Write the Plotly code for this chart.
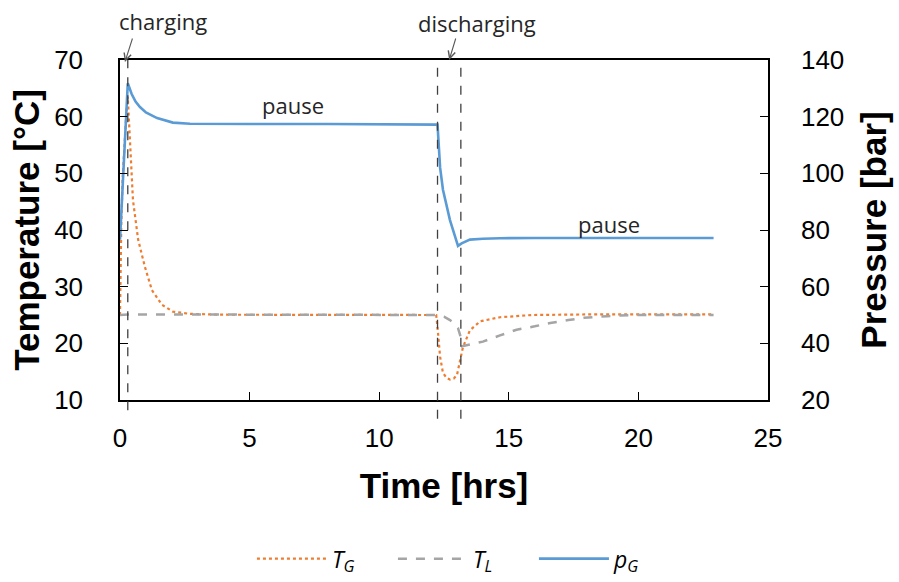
import plotly.graph_objects as go

# ---- data ----
t_G = [0, 0.02, 0.05, 0.1, 0.18, 0.25, 0.3, 0.39, 0.5, 0.7, 0.96, 1.23, 1.62, 2.04, 2.7, 4, 8,
       12.2, 12.27, 12.35, 12.46, 12.6, 12.73, 12.88, 13.0, 13.1, 13.23, 13.5, 13.9, 14.66, 15.9, 18, 20, 22.9]
T_G = [25, 33, 41, 49, 56, 61, 63.5, 54.7, 45.3, 38.3, 33.5, 29.4, 26.8, 25.6, 25.2, 25.05, 25.0,
       25.0, 21.8, 17.6, 14.8, 13.9, 13.6, 13.8, 14.4, 16.5, 19.3, 22.3, 23.9, 24.6, 25.0, 25.1, 25.1, 25.1]

t_L = [0, 0.3, 1, 5, 12.23, 12.5, 12.73, 12.9, 13.04, 13.12, 13.2, 13.5, 14.0, 14.66, 15.3, 16.0,
       16.6, 17.3, 17.9, 18.8, 19.8, 21, 22.9]
T_L = [25.0, 25.1, 25.1, 25.05, 25.0, 24.7, 24.1, 23.5, 22.7, 21.5, 19.5, 19.8, 20.3, 21.4, 22.4, 23.0,
       23.6, 24.1, 24.5, 24.8, 25.0, 25.0, 25.0]

t_p = [0, 0.3, 0.45, 0.6, 0.77, 1.0, 1.43, 2.04, 2.7, 3.5, 5, 8, 10, 12.25, 12.35, 12.46, 12.73,
       13.04, 13.18, 13.5, 14.0, 14.66, 16, 18, 20, 22.9]
p_G = [76.6, 131.8, 128.0, 125.3, 123.4, 121.5, 119.5, 117.9, 117.5, 117.4, 117.4, 117.4, 117.3, 117.2,
       102.0, 94.2, 83.5, 74.4, 75.3, 76.6, 76.9, 77.1, 77.2, 77.2, 77.2, 77.2]

event_times = [0.3, 12.25, 13.15]
x_ticks = [0, 5, 10, 15, 20, 25]
y1_ticks = [10, 20, 30, 40, 50, 60, 70]
y2_ticks = [20, 40, 60, 80, 100, 120, 140]

ORANGE = "#ED7D31"
GREY = "#A5A5A5"
BLUE = "#5B9BD5"
TICKFONT = dict(family="Liberation Sans, Arial", size=26, color="black")
TITLEFONT = dict(family="Liberation Sans, Arial", size=35, color="black")
ANNFONT = dict(family="Open Sans", size=22, color="#262626")

fig = go.Figure()
fig.add_trace(go.Scatter(x=t_G, y=T_G, mode="lines", name="<i>T</i><sub><i>G</i></sub>",
                         line=dict(color=ORANGE, width=2.2, dash="dot"), yaxis="y"))
fig.add_trace(go.Scatter(x=t_L, y=T_L, mode="lines", name="<i>T</i><sub><i>L</i></sub>",
                         line=dict(color=GREY, width=2.5, dash="dash"), yaxis="y"))
fig.add_trace(go.Scatter(x=t_p, y=p_G, mode="lines", name="<i>p</i><sub><i>G</i></sub>",
                         line=dict(color=BLUE, width=2.6), yaxis="y2"))

shapes = []
for i, tx in enumerate(event_times):
    shapes.append(dict(type="line", xref="x", yref="paper", x0=tx, x1=tx,
                       y0=-0.03 if i == 0 else -0.055, y1=1,
                       line=dict(color="#404040", width=1.3, dash="dash"), layer="above"))

annotations = [
    dict(text="pause", x=6.67, y=62.1, xref="x", yref="y", showarrow=False, font=ANNFONT),
    dict(text="pause", x=18.87, y=41.0, xref="x", yref="y", showarrow=False, font=ANNFONT),
    dict(text="charging", x=1.66, y=1.115, xref="x", yref="paper", yanchor="middle",
         showarrow=False, font=ANNFONT),
    dict(text="discharging", x=13.77, y=1.109, xref="x", yref="paper", yanchor="middle",
         showarrow=False, font=ANNFONT),
    dict(text="", x=0.19, y=0.994, xref="x", yref="paper", showarrow=True, ax=8, ay=-25,
         arrowhead=5, arrowsize=1.3, arrowwidth=1.1, arrowcolor="#595959"),
    dict(text="", x=12.7, y=1.0, xref="x", yref="paper", showarrow=True, ax=7, ay=-23,
         arrowhead=5, arrowsize=1.3, arrowwidth=1.1, arrowcolor="#595959"),
]

fig.update_layout(
    width=899, height=582,
    margin=dict(l=120, r=131, t=60, b=182),
    paper_bgcolor="white", plot_bgcolor="white",
    showlegend=True,
    legend=dict(orientation="h", x=0.53, xanchor="center", xref="paper",
                y=0.04, yanchor="middle", yref="container",
                font=dict(family="Open Sans", size=23, color="black"),
                itemwidth=70, entrywidth=56, entrywidthmode="pixels",
                bgcolor="rgba(0,0,0,0)"),
    xaxis=dict(range=[0, 25], tickvals=x_ticks, ticks="inside", ticklen=8, tickcolor="black",
               showline=True, linecolor="black", linewidth=1.5, mirror=True,
               showgrid=False, zeroline=False, tickfont=TICKFONT, ticklabelstandoff=14,
               title=dict(text="<b>Time [hrs]</b>", font=TITLEFONT, standoff=22)),
    yaxis=dict(range=[10, 70], tickvals=y1_ticks, ticks="inside", ticklen=8, tickcolor="black",
               showline=True, linecolor="black", linewidth=1.5,
               showgrid=False, zeroline=False, tickfont=TICKFONT, ticklabelstandoff=30,
               title=dict(text="<b>Temperature [°C]</b>", font=TITLEFONT, standoff=4)),
    yaxis2=dict(range=[20, 140], tickvals=y2_ticks, ticks="inside", ticklen=8, tickcolor="black",
                overlaying="y", side="right",
                showline=True, linecolor="black", linewidth=1.5,
                showgrid=False, zeroline=False, tickfont=TICKFONT, ticklabelstandoff=26,
                title=dict(text="<b>Pressure [bar]</b>", font=TITLEFONT, standoff=18)),
    shapes=shapes,
    annotations=annotations,
)

fig.write_html("out.html")
